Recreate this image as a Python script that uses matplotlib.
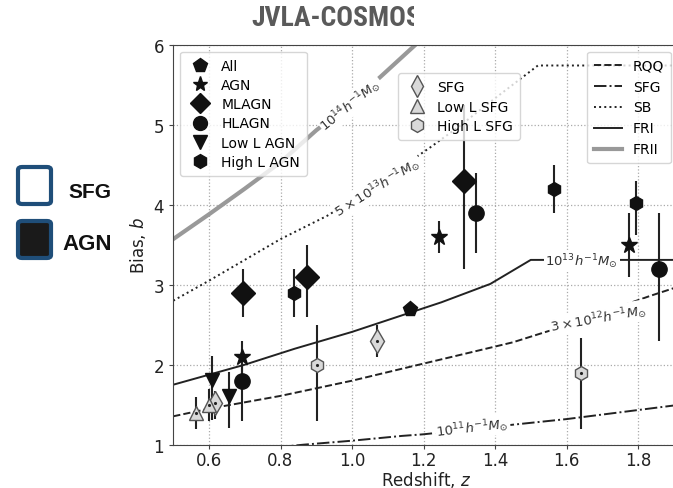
import matplotlib
matplotlib.use('Agg')
import matplotlib.pyplot as plt
from matplotlib.patches import FancyBboxPatch
from matplotlib.transforms import Bbox, TransformedBbox
from matplotlib.lines import Line2D

# ---------------- data ----------------
all_z = [1.163]; all_b = [2.70]; all_lo = [0.05]; all_hi = [0.05]
agn_z = [0.693, 1.243, 1.774]; agn_b = [2.10, 3.60, 3.50]; agn_lo = [0.2, 0.2, 0.4]; agn_hi = [0.2, 0.2, 0.4]
mlagn_z = [0.695, 0.875, 1.313]; mlagn_b = [2.90, 3.10, 4.30]; mlagn_lo = [0.3, 0.5, 1.1]; mlagn_hi = [0.3, 0.4, 0.95]
hlagn_z = [0.693, 1.348, 1.858]; hlagn_b = [1.80, 3.90, 3.20]; hlagn_lo = [0.5, 0.5, 0.9]; hlagn_hi = [0.4, 0.5, 0.7]
lowagn_z = [0.609, 0.656]; lowagn_b = [1.81, 1.61]; lowagn_lo = [0.5, 0.4]; lowagn_hi = [0.3, 0.3]
highagn_z = [0.839, 1.565, 1.795]; highagn_b = [2.90, 4.20, 4.02]; highagn_lo = [0.3, 0.3, 0.4]; highagn_hi = [0.3, 0.3, 0.28]
sfg_z = [0.617, 1.07]; sfg_b = [1.52, 2.30]; sfg_lo = [0.2, 0.2]; sfg_hi = [0.15, 0.2]
lowsfg_z = [0.564, 0.600]; lowsfg_b = [1.40, 1.50]; lowsfg_lo = [0.2, 0.2]; lowsfg_hi = [0.2, 0.2]
highsfg_z = [0.903, 1.640]; highsfg_b = [2.00, 1.90]; highsfg_lo = [0.7, 0.7]; highsfg_hi = [0.5, 0.43]

# halo-mass bias tracks
frii_z = [0.5, 0.6, 0.7, 0.8, 0.9, 1.0, 1.08, 1.19]
frii_b = [3.57, 3.88, 4.20, 4.53, 4.93, 5.28, 5.60, 6.05]
sb_z = [0.5, 0.6, 0.7, 0.8, 0.93, 1.0, 1.1, 1.22, 1.3, 1.4, 1.52, 1.95]
sb_b = [2.80, 3.05, 3.31, 3.57, 3.86, 4.05, 4.35, 4.72, 4.98, 5.33, 5.74, 5.74]
fri_z = [0.5, 0.7, 0.84, 1.0, 1.135, 1.25, 1.387, 1.5, 1.95]
fri_b = [1.75, 2.00, 2.20, 2.41, 2.61, 2.78, 3.01, 3.31, 3.31]
rqq_z = [0.5, 0.6, 0.8, 1.0, 1.14, 1.3, 1.45, 1.535, 1.6, 1.7, 1.834, 1.95]
rqq_b = [1.355, 1.45, 1.61, 1.80, 1.95, 2.12, 2.28, 2.40, 2.49, 2.65, 2.86, 3.03]
sfgl_z = [0.5, 0.7, 0.864, 1.0, 1.14, 1.2, 1.45, 1.6, 1.9, 1.95]
sfgl_b = [0.86, 0.93, 1.00, 1.05, 1.11, 1.13, 1.25, 1.32, 1.49, 1.52]

xticks = [0.6, 0.8, 1.0, 1.2, 1.4, 1.6, 1.8]
yticks = [1, 2, 3, 4, 5, 6]

# ---------------- figure ----------------
W, H = 673, 489
fig = plt.figure(figsize=(W / 100, H / 100), dpi=100)
ax_l, ax_r, ax_t, ax_bt = 173.25, 678.0, 45.7, 445.7
ax = fig.add_axes([ax_l / W, 1 - ax_bt / H, (ax_r - ax_l) / W, (ax_bt - ax_t) / H])
z_right = 0.5 + (ax_r - ax_l) / 357.5
ax.set_xlim(0.5, z_right)
ax.set_ylim(1, 6)
ax.set_xticks(xticks)
ax.set_yticks(yticks)
ax.set_xticklabels(['%.1f' % v for v in xticks])
ax.grid(True, ls=':', color='#aaaaaa', lw=0.9)
ax.set_axisbelow(True)
ax.tick_params(labelsize=12, length=3, color='#444444', labelcolor='#222222')
ax.tick_params(axis='x', pad=1.5)
for s in ['left', 'bottom', 'top']:
    ax.spines[s].set_color('#444444')
ax.spines['right'].set_visible(False)
ax.set_xlabel('Redshift, $z$', fontsize=12, color='#222222', labelpad=0)
ax.set_ylabel('Bias, $b$', fontsize=12, color='#222222', labelpad=4)

# tracks
ax.plot(frii_z, frii_b, color='#999999', lw=3, zorder=1.5)
ax.plot(sb_z, sb_b, color='#222222', lw=1.4, ls=':', zorder=1.5)
ax.plot(fri_z, fri_b, color='#222222', lw=1.4, ls='-', zorder=1.5)
ax.plot(rqq_z, rqq_b, color='#222222', lw=1.4, ls='--', zorder=1.5)
ax.plot(sfgl_z, sfgl_b, color='#222222', lw=1.4, ls='-.', zorder=1.5)

lab_kw = dict(fontsize=9.5, color='#333333', ha='center', va='center', zorder=2,
              bbox=dict(facecolor='white', edgecolor='none', pad=1.0))
ax.text(0.997, 5.25, r'$10^{14}h^{-1}M_{\odot}$', rotation=39, **lab_kw)
ax.text(1.072, 4.22, r'$5\times10^{13}h^{-1}M_{\odot}$', rotation=32, **lab_kw)
ax.text(1.643, 3.30, r'$10^{13}h^{-1}M_{\odot}$', rotation=0, **lab_kw)
ax.text(1.689, 2.58, r'$3\times10^{12}h^{-1}M_{\odot}$', rotation=10, **lab_kw)
ax.text(1.337, 1.22, r'$10^{11}h^{-1}M_{\odot}$', rotation=6.5, **lab_kw)

# data
blk = '#111111'
eb_kw = dict(fmt='none', ecolor='#222222', elinewidth=1.5, capsize=0, zorder=3)
groups_agn = [
    (all_z, all_b, all_lo, all_hi, 'p', 11),
    (agn_z, agn_b, agn_lo, agn_hi, '*', 12),
    (mlagn_z, mlagn_b, mlagn_lo, mlagn_hi, 'D', 12),
    (hlagn_z, hlagn_b, hlagn_lo, hlagn_hi, 'o', 11),
    (lowagn_z, lowagn_b, lowagn_lo, lowagn_hi, 'v', 10),
    (highagn_z, highagn_b, highagn_lo, highagn_hi, 'h', 10),
]
for zz, bb, lo, hi, m, ms in groups_agn:
    ax.errorbar(zz, bb, yerr=[lo, hi], **eb_kw)
    ax.plot(zz, bb, ls='none', marker=m, ms=ms, color=blk, mec=blk, zorder=4)

sfc, sec = '#d9d9d9', '#555555'
groups_sfg = [
    (sfg_z, sfg_b, sfg_lo, sfg_hi, 'd', 12),
    (lowsfg_z, lowsfg_b, lowsfg_lo, lowsfg_hi, '^', 10),
    (highsfg_z, highsfg_b, highsfg_lo, highsfg_hi, 'h', 10),
]
for zz, bb, lo, hi, m, ms in groups_sfg:
    ax.errorbar(zz, bb, yerr=[lo, hi], **eb_kw)
    ax.plot(zz, bb, ls='none', marker=m, ms=ms, mfc=sfc, mec=sec, mew=1.0, zorder=4)
    ax.plot(zz, bb, ls='none', marker='.', ms=2.5, color='#222222', zorder=5)

# legends
h1 = [Line2D([], [], ls='none', marker=m, ms=ms, color=blk, label=l) for m, ms, l in
      [('p', 10, 'All'), ('*', 11, 'AGN'), ('D', 10, 'MLAGN'), ('o', 10, 'HLAGN'),
       ('v', 10, 'Low L AGN'), ('h', 10, 'High L AGN')]]
leg1 = ax.legend(handles=h1, loc='upper left', fontsize=10, labelspacing=0.38,
                 handletextpad=0.55, borderpad=0.5, handlelength=1.9)
ax.add_artist(leg1)

h2 = [Line2D([], [], ls='none', marker=m, ms=ms, mfc=sfc, mec=sec, label=l) for m, ms, l in
      [('d', 11, 'SFG'), ('^', 10, 'Low L SFG'), ('h', 10, 'High L SFG')]]
leg2 = ax.legend(handles=h2, loc='upper left', bbox_to_anchor=(0.445, 0.929), borderaxespad=0,
                 fontsize=10, labelspacing=0.4, handletextpad=0.5, borderpad=0.5,
                 handlelength=1.8)
ax.add_artist(leg2)

h3 = [Line2D([], [], color='#222222', ls='--', lw=1.4, label='RQQ'),
      Line2D([], [], color='#222222', ls='-.', lw=1.4, label='SFG'),
      Line2D([], [], color='#222222', ls=':', lw=1.4, label='SB'),
      Line2D([], [], color='#222222', ls='-', lw=1.4, label='FRI'),
      Line2D([], [], color='#999999', ls='-', lw=3, label='FRII')]
ax.legend(handles=h3, loc='upper right', fontsize=10, labelspacing=0.5, borderpad=0.5)

# title (clipped)
t = fig.text(251 / W, 1 - 19 / H, 'JVLA-COSMOS', fontsize=20, fontweight='bold',
             family=['Roboto Condensed', 'Liberation Sans Narrow', 'DejaVu Sans'],
             color='#5a5a5a', ha='left', va='center')
t.set_clip_box(TransformedBbox(Bbox([[0, 0], [414 / W, 1]]), fig.transFigure))
t.set_clip_on(True)

# left key boxes
def key_box(x0, y0, w, h, fc):
    p = FancyBboxPatch((x0 / W, 1 - (y0 + h) / H), w / W, h / H,
                       boxstyle='round,pad=0,rounding_size=0.006',
                       transform=fig.transFigure, fc=fc, ec='#1f4e79', lw=3)
    fig.add_artist(p)

key_box(18, 168, 33, 37, 'white')
key_box(18, 222, 33, 37, '#1a1a1a')
fig.text(68 / W, 1 - 193 / H, 'SFG', fontsize=15, fontweight='bold',
         family=['Liberation Sans', 'DejaVu Sans'], color='#111111', ha='left', va='center')
fig.text(62 / W, 1 - 244 / H, 'AGN', fontsize=16, fontweight='bold',
         family=['Liberation Sans', 'DejaVu Sans'], color='#111111', ha='left', va='center')

fig.savefig('out.png', dpi=100)
